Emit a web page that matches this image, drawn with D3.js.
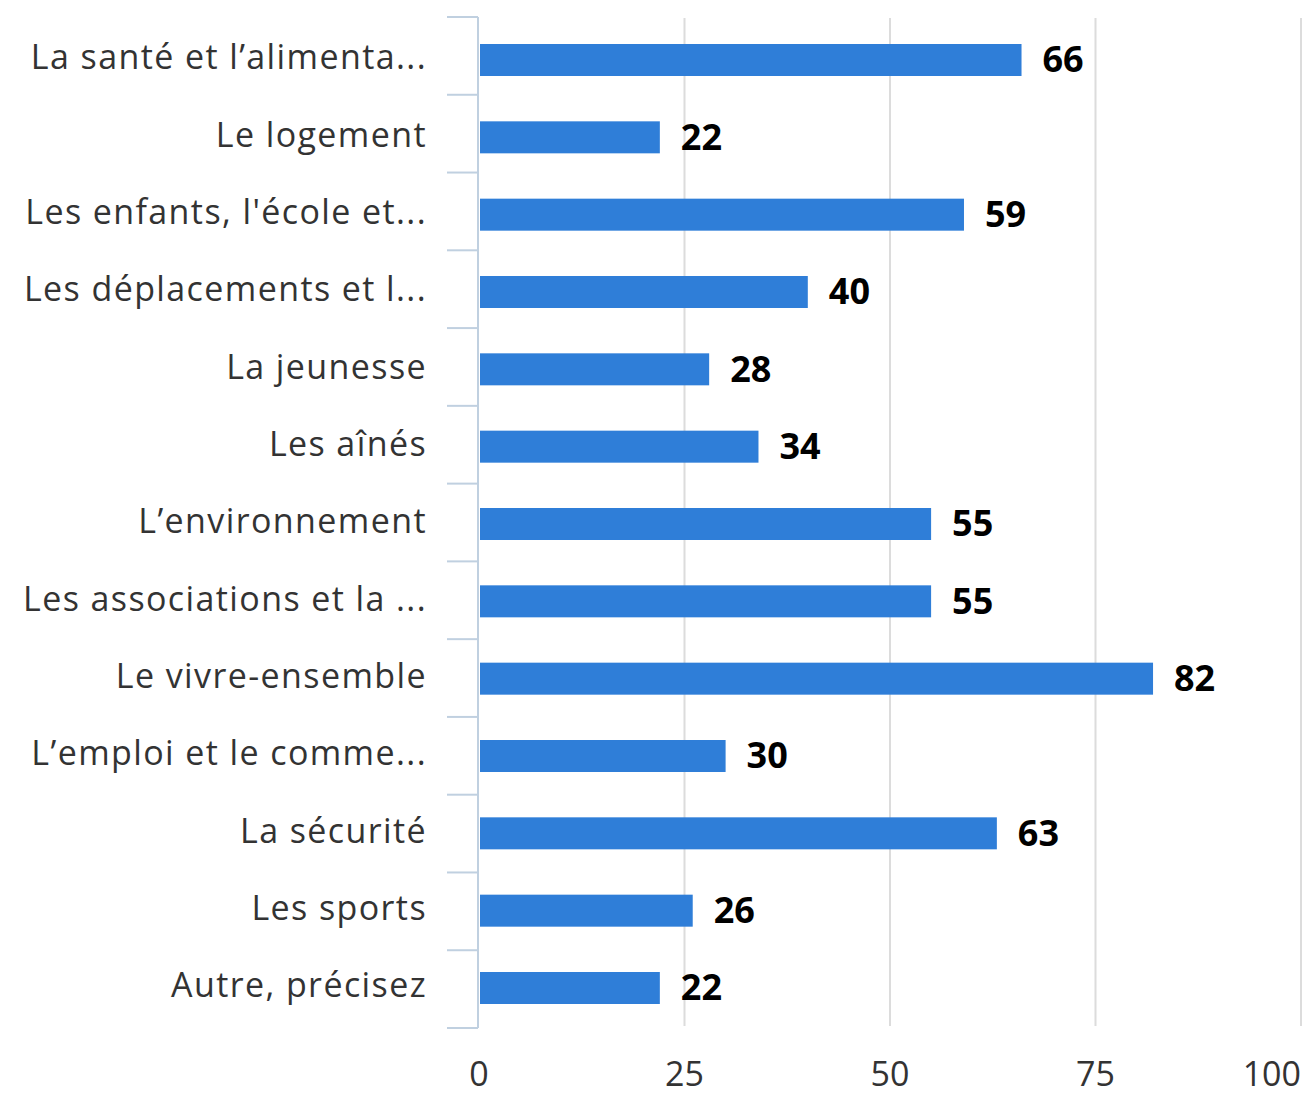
<!DOCTYPE html>
<html><head><meta charset="utf-8">
<script src="https://cdn.jsdelivr.net/npm/d3@7"></script>
<style>body{margin:0;background:#fff}</style>
</head><body>
<svg id="c" width="1311" height="1096"></svg>
<script>
const categories = ["La santé et l’alimenta...","Le logement","Les enfants, l'école et...","Les déplacements et l...","La jeunesse","Les aînés","L’environnement","Les associations et la ...","Le vivre-ensemble","L’emploi et le comme...","La sécurité","Les sports","Autre, précisez"];
const values = [66,22,59,40,28,34,55,55,82,30,63,26,22];
const xTicks = [0,25,50,75,100];

const svg = d3.select("#c");
const font = "'Open Sans', sans-serif";
const x = d3.scaleLinear().domain([0,100]).range([479,1301]);
const yB = d3.scaleBand().domain(categories).range([17,1028]);
const y = d3.scalePoint().domain(categories).range([60,988]);
const barH = 32;

// gridlines
svg.append("g").selectAll("line").data(xTicks.slice(1)).join("line")
  .attr("x1",d=>x(d)).attr("x2",d=>x(d)).attr("y1",18).attr("y2",1026)
  .attr("stroke","#dcdcdc").attr("stroke-width",2);

// y axis line and ticks at band boundaries
const bounds = categories.map(c=>yB(c)).concat([yB.range()[1]]);
svg.append("line").attr("x1",478).attr("x2",478).attr("y1",17).attr("y2",1028)
  .attr("stroke","#c0d0e0").attr("stroke-width",2);
svg.append("g").selectAll("line").data(bounds).join("line")
  .attr("x1",447).attr("x2",478).attr("y1",d=>d).attr("y2",d=>d)
  .attr("stroke","#c0d0e0").attr("stroke-width",2);

// bars
svg.append("g").selectAll("rect").data(values).join("rect")
  .attr("x",x(0)+1).attr("y",(d,i)=>y(categories[i])-barH/2)
  .attr("width",d=>x(d)-x(0)-1).attr("height",barH)
  .attr("fill","#2f7ed8");

// value labels
svg.append("g").selectAll("text").data(values).join("text")
  .attr("x",d=>x(d)+21).attr("y",(d,i)=>y(categories[i]))
  .attr("dy","0.34em").attr("font-family",font).attr("font-weight","bold")
  .attr("font-size",36).attr("fill","#000").text(d=>d);

// category labels
svg.append("g").selectAll("text").data(categories).join("text")
  .attr("x",427).attr("y",d=>y(d)-1)
  .attr("dy","0.3em").attr("text-anchor","end").attr("font-family",font)
  .attr("font-size",34).attr("letter-spacing","1.4px").attr("fill","#333").text(d=>d);

// x tick labels
svg.append("g").selectAll("text").data(xTicks).join("text")
  .attr("x",d=>x(d))
  .attr("y",1086).attr("text-anchor",(d,i)=>i===xTicks.length-1?"end":"middle")
  .attr("font-family",font).attr("font-size",34).attr("fill","#333").text(d=>d);
</script>
</body></html>
